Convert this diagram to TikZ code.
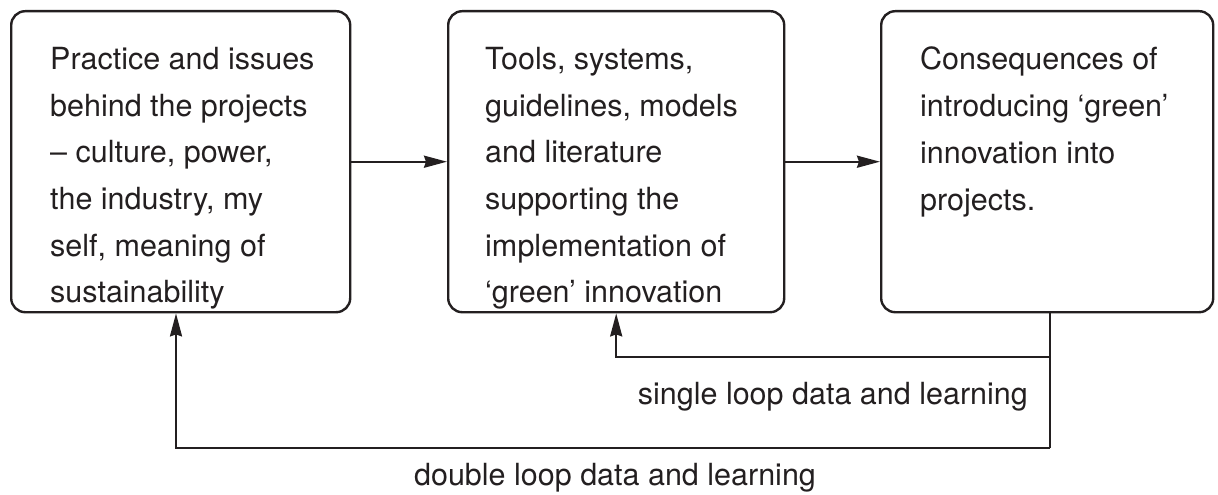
\documentclass[tikz,border=0pt]{standalone}
\usepackage{fontspec}
\setmainfont{TeX Gyre Heros}
\usetikzlibrary{arrows.meta,calc}
\definecolor{ink}{HTML}{231F20}
\begin{document}
\begin{tikzpicture}[x=1pt,y=-1pt,
  box/.style={draw=ink, line width=2.4pt, rounded corners=14pt, inner sep=0pt, anchor=north west, minimum height=301pt},
  txt/.style={anchor=north west, inner sep=0pt, align=left, text=ink, font=\fontsize{30.5}{46.7}\selectfont},
  lbl/.style={inner sep=0pt, text=ink, font=\fontsize{30.5}{36}\selectfont},
  conn/.style={draw=ink, line width=2.3pt},
  arr/.style={conn, -{Stealth[length=23pt,width=12pt,inset=2pt]}}
]
\useasboundingbox (0,0) rectangle (1218,495);
\node[box, minimum width=339pt] (b1) at (10,10) {};
\node[box, minimum width=336pt] (b2) at (447,10) {};
\node[box, minimum width=332pt] (b3) at (880,10) {};
\node[txt] (t1) at (50,47) {Practice and issues\\behind the projects\\– culture, power,\\the industry, my\\self, meaning of\\sustainability};
\node[txt] (t2) at (485,47) {Tools, systems,\\guidelines, models\\and literature\\supporting the\\implementation of\\‘green’ innovation};
\node[txt] (t3) at (920,47) {Consequences of\\introducing ‘green’\\innovation into\\projects.};
\draw[arr] (b1.east) -- (b2.west);
\draw[arr] (b2.east) -- (b3.west);
\coordinate (j) at (1050,357);
\coordinate (k) at (1050,448);
\coordinate (d) at (176,448);
\draw[conn] (b3.south -| j) -- (k);
\draw[arr] (j) -- (j -| b2.south) -- (b2.south);
\draw[arr] (k) -- (d) -- (d |- b1.south);
\node[lbl, anchor=base east] (sl) at (1028,404) {single loop data and learning};
\node[lbl, anchor=base] (dl) at (615,485) {double loop data and learning};
\end{tikzpicture}
\end{document}
